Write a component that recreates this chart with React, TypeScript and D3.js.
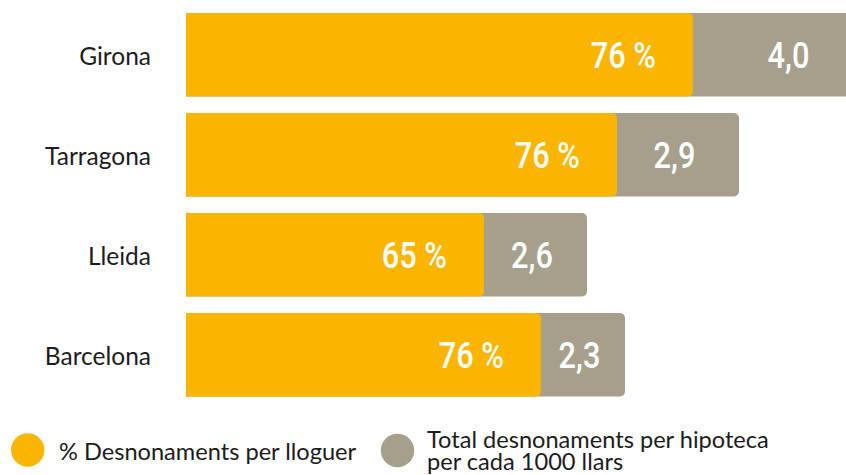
import React from "react";
import * as d3 from "d3";

const categories = ["Girona", "Tarragona", "Lleida", "Barcelona"];
// bar segment sizes (chart units) as drawn in the reference
const rentBar = [5.07, 4.31, 2.98, 3.55];
const mortgageBar = [1.98, 1.22, 1.03, 0.84];
// labels shown on the bars
const rentPct = [76, 76, 65, 76];
const mortgagePer1000 = [4.0, 2.9, 2.6, 2.3];
const legendLabels = ["% Desnonaments per lloguer", "Total desnonaments per hipoteca", "per cada 1000 llars"];

const W = 846;
const H = 475;
const YELLOW = "#FAB500";
const GRAY = "#A59F8C";
const TEXT = "#1c1c1c";

function rightRounded(x0: number, x1: number, y: number, h: number, r: number) {
  const p = d3.path();
  p.moveTo(x0, y);
  p.lineTo(x1 - r, y);
  p.arcTo(x1, y, x1, y + r, r);
  p.lineTo(x1, y + h - r);
  p.arcTo(x1, y + h, x1 - r, y + h, r);
  p.lineTo(x0, y + h);
  p.closePath();
  return p.toString();
}

export default function App() {
  const x = d3.scaleLinear().domain([0, 7]).range([186, 886]);
  const y = d3
    .scaleBand<string>()
    .domain(categories)
    .range([4.75, 404.75])
    .paddingInner(0.165)
    .paddingOuter(0.0825);
  const bw = y.bandwidth();
  const fmtComma = (v: number) => d3.format(".1f")(v).replace(".", ",");
  const sx = 0.82;
  const labelFont = "Roboto, 'DejaVu Sans', sans-serif";

  return (
    <svg
      width={W}
      height={H}
      style={{ position: "absolute", left: 0, top: 0, overflow: "hidden", background: "#fff" }}
    >
      {categories.map((c, i) => {
        const y0 = y(c)!;
        const xEndY = x(rentBar[i]);
        const xEndG = x(rentBar[i] + mortgageBar[i]);
        const cy = y0 + bw / 2;
        return (
          <g key={c}>
            <text
              x={151}
              y={cy + 10}
              textAnchor="end"
              fontFamily="Lato, sans-serif"
              fontSize={24.5}
              fill={TEXT}
            >
              {c}
            </text>
            <path d={rightRounded(x(0), xEndG, y0, bw, 5)} fill={GRAY} />
            <path d={rightRounded(x(0), xEndY, y0, bw, 5)} fill={YELLOW} />
            <text
              transform={`translate(${xEndY - 37},${cy + 12.8}) scale(${sx},1)`}
              textAnchor="end"
              fontFamily={labelFont}
              fontWeight={500}
              fontSize={37.5}
              fill="#fff"
            >
              {`${rentPct[i]} %`}
            </text>
            <text
              transform={`translate(${(xEndY + xEndG) / 2 - 3.5},${cy + 12.8}) scale(${sx},1)`}
              textAnchor="middle"
              fontFamily={labelFont}
              fontWeight={500}
              fontSize={37.5}
              fill="#fff"
            >
              {fmtComma(mortgagePer1000[i])}
            </text>
          </g>
        );
      })}
      <g fontFamily="Lato, sans-serif" fontSize={23.6} fill={TEXT}>
        <circle cx={27.7} cy={450} r={16.7} fill={YELLOW} />
        <text x={59} y={459.5}>{legendLabels[0]}</text>
        <circle cx={397.5} cy={450.5} r={16.7} fill={GRAY} />
        <text x={427} y={448}>{legendLabels[1]}</text>
        <text x={427} y={470}>{legendLabels[2]}</text>
      </g>
    </svg>
  );
}
